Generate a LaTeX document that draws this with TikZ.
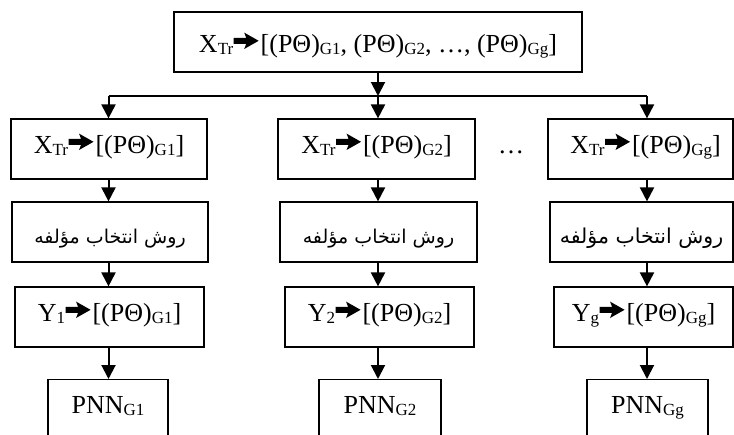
\documentclass[tikz,border=0pt]{standalone}
\usepackage{fontspec}
\setmainfont{Liberation Serif}
\newfontfamily\arabicfont[Script=Arabic]{DejaVu Sans}
\TeXXeTstate=1
\usetikzlibrary{arrows.meta}
% lowered, smaller subscript text
\newcommand\lowsub[1]{\raisebox{-2pt}{\fontsize{17}{17}\selectfont #1}}
% heavy right arrow between the two sides of a mapping
\newcommand\harrow{\kern0.5pt\tikz[baseline=0pt,x=1pt,y=1pt]
  \fill[black] (0,8.2) -- (12.5,8.2) -- (10.5,3) -- (25,11.2) -- (10.5,19.4)
    -- (12.5,14.2) -- (0,14.2) -- cycle;\kern2pt}
\newcommand\PT{(PΘ)}
\begin{document}
\begin{tikzpicture}[x=1pt,y=-1pt,
  box/.style={draw, line width=1.2pt, inner sep=0pt, minimum height=60pt,
    font=\fontsize{26}{26}\selectfont, text height=22pt, text depth=14pt},
  fabox/.style={box, font=\arabicfont\fontsize{19}{19}\selectfont,
    text height=26pt, text depth=4pt},
  pnnbox/.style={box, anchor=north, minimum height=70pt,
    text height=34pt, text depth=36pt},
  arr/.style={line width=2pt, -{Triangle[width=14pt,length=14pt]}},
  busline/.style={line width=1.2pt}]
\fill[white] (0,0) rectangle (734,434);
\clip (0,0) rectangle (734,434);

% column axes of the vertical connectors
\coordinate (k1) at (108.5,0);
\coordinate (k2) at (378,0);
\coordinate (k3) at (647,0);
\coordinate (bus) at (378,96);

% top mapping
\node[box, minimum width=408pt, text height=25pt, text depth=5pt] (top) at (378,42)
  {X\lowsub{Tr}\harrow[\PT\lowsub{G1}, \PT\lowsub{G2}, …, \PT\lowsub{Gg}]};

% first row: partial mappings
\node[box, minimum width=196pt] (x1) at (109,149) {X\lowsub{Tr}\harrow[\PT\lowsub{G1}]};
\node[box, minimum width=197pt] (x2) at (376.5,149) {X\lowsub{Tr}\harrow[\PT\lowsub{G2}]};
\node[box, minimum width=185pt] (x3) at (640.5,149) {\hspace*{10pt}X\lowsub{Tr}\harrow[\PT\lowsub{Gg}]};
\node[inner sep=0pt, anchor=base, font=\fontsize{26}{26}\selectfont] (dots) at (511,153) {…};

% second row: component selection
\node[fabox, minimum width=196pt] (r1) at (110,232) {\beginR روش انتخاب مؤلفه\endR};
\node[fabox, minimum width=197pt] (r2) at (378.5,232) {\beginR روش انتخاب مؤلفه\endR};
\node[fabox, minimum width=183pt, font=\arabicfont\fontsize{20.5}{20.5}\selectfont] (r3) at (641.5,232) {\beginR روش انتخاب مؤلفه\endR};

% third row: outputs
\node[box, minimum width=189pt] (y1) at (109.5,317) {Y\lowsub{1}\harrow[\PT\lowsub{G1}]};
\node[box, minimum width=189pt] (y2) at (379.5,317) {Y\lowsub{2}\harrow[\PT\lowsub{G2}]};
\node[box, minimum width=179pt] (y3) at (643.5,317) {Y\lowsub{g}\harrow[\PT\lowsub{Gg}]};

% fourth row: networks
\node[pnnbox, minimum width=120pt] (p1) at (108,379) {PNN\lowsub{G1}};
\node[pnnbox, minimum width=122pt] (p2) at (380,379) {PNN\lowsub{G2}};
\node[pnnbox, minimum width=121pt] (p3) at (647.5,379) {PNN\lowsub{Gg}};

% connectors
\draw[arr] (top.south) -- (top.south |- bus);
\draw[busline] (k1 |- bus) -- (k3 |- bus);
\foreach \k/\a/\b/\c/\d in {k1/x1/r1/y1/p1, k2/x2/r2/y2/p2, k3/x3/r3/y3/p3}{
  \draw[arr] (\k |- bus) -- (\k |- \a.north);
  \draw[arr] (\k |- \a.south) -- (\k |- \b.north);
  \draw[arr] (\k |- \b.south) -- (\k |- \c.north);
  \draw[arr] (\k |- \c.south) -- (\k |- \d.north);
}
\end{tikzpicture}
\end{document}
